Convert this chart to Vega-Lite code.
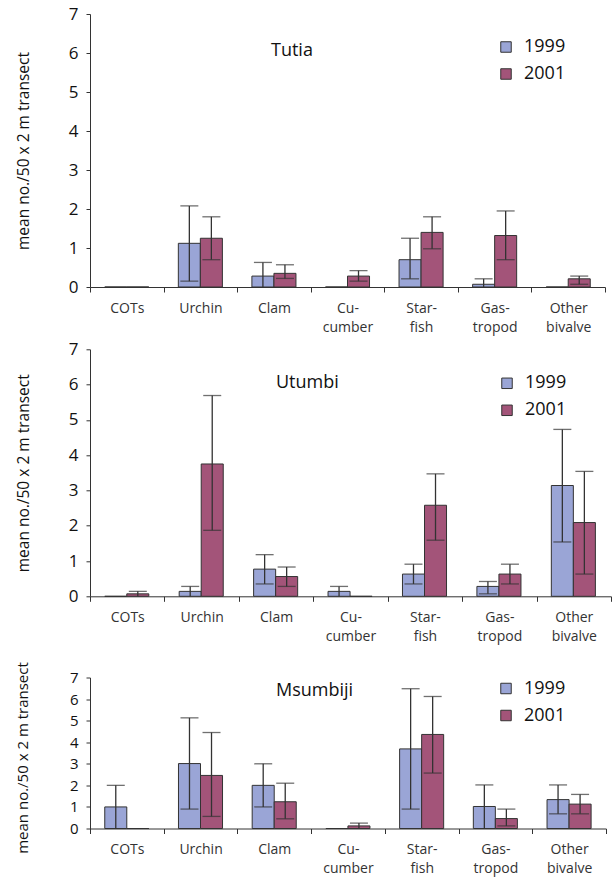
{
  "$schema": "https://vega.github.io/schema/vega-lite/v6.json",
  "padding": {"left": 15, "top": 5, "right": 5, "bottom": 5},
  "config": {
    "font": "Open Sans",
    "view": {"stroke": null},
    "axis": {"grid": false, "domainColor": "#333", "tickColor": "#333", "labelColor": "#111", "titleColor": "#111", "titleFontWeight": "normal"},
    "axisY": {"labelOverlap": false, "tickSize": 4, "labelPadding": 8, "labelFontSize": 17, "titleFontSize": 15.5, "titlePadding": 37},
    "legend": {"orient": "none", "title": null, "symbolType": "square", "symbolSize": 110, "symbolStrokeColor": "#333", "symbolStrokeWidth": 1, "labelFontSize": 18, "labelOffset": 9, "rowPadding": 9, "labelColor": "#111"},
    "title": {"color": "#111", "fontWeight": "normal", "fontSize": 18}
  },
  "datasets": {
    "counts": [
      {"site": "Tutia", "taxon": "COTs", "year": "1999", "mean": 0, "lo": 0, "hi": 0},
      {"site": "Tutia", "taxon": "COTs", "year": "2001", "mean": 0, "lo": 0, "hi": 0},
      {"site": "Tutia", "taxon": "Urchin", "year": "1999", "mean": 1.12, "lo": 0.15, "hi": 2.08},
      {"site": "Tutia", "taxon": "Urchin", "year": "2001", "mean": 1.25, "lo": 0.70, "hi": 1.80},
      {"site": "Tutia", "taxon": "Clam", "year": "1999", "mean": 0.28, "lo": 0, "hi": 0.63},
      {"site": "Tutia", "taxon": "Clam", "year": "2001", "mean": 0.35, "lo": 0.22, "hi": 0.57},
      {"site": "Tutia", "taxon": "Cu- cumber", "year": "1999", "mean": 0, "lo": 0, "hi": 0},
      {"site": "Tutia", "taxon": "Cu- cumber", "year": "2001", "mean": 0.28, "lo": 0.15, "hi": 0.42},
      {"site": "Tutia", "taxon": "Star- fish", "year": "1999", "mean": 0.70, "lo": 0.21, "hi": 1.25},
      {"site": "Tutia", "taxon": "Star- fish", "year": "2001", "mean": 1.40, "lo": 0.98, "hi": 1.80},
      {"site": "Tutia", "taxon": "Gas- tropod", "year": "1999", "mean": 0.07, "lo": 0, "hi": 0.21},
      {"site": "Tutia", "taxon": "Gas- tropod", "year": "2001", "mean": 1.32, "lo": 0.70, "hi": 1.95},
      {"site": "Tutia", "taxon": "Other bivalve", "year": "1999", "mean": 0, "lo": 0, "hi": 0},
      {"site": "Tutia", "taxon": "Other bivalve", "year": "2001", "mean": 0.21, "lo": 0.07, "hi": 0.28},

      {"site": "Utumbi", "taxon": "COTs", "year": "1999", "mean": 0, "lo": 0, "hi": 0},
      {"site": "Utumbi", "taxon": "COTs", "year": "2001", "mean": 0.07, "lo": 0, "hi": 0.14},
      {"site": "Utumbi", "taxon": "Urchin", "year": "1999", "mean": 0.14, "lo": 0, "hi": 0.28},
      {"site": "Utumbi", "taxon": "Urchin", "year": "2001", "mean": 3.75, "lo": 1.87, "hi": 5.69},
      {"site": "Utumbi", "taxon": "Clam", "year": "1999", "mean": 0.77, "lo": 0.35, "hi": 1.18},
      {"site": "Utumbi", "taxon": "Clam", "year": "2001", "mean": 0.56, "lo": 0.28, "hi": 0.83},
      {"site": "Utumbi", "taxon": "Cu- cumber", "year": "1999", "mean": 0.14, "lo": 0, "hi": 0.28},
      {"site": "Utumbi", "taxon": "Cu- cumber", "year": "2001", "mean": 0, "lo": 0, "hi": 0},
      {"site": "Utumbi", "taxon": "Star- fish", "year": "1999", "mean": 0.63, "lo": 0.35, "hi": 0.91},
      {"site": "Utumbi", "taxon": "Star- fish", "year": "2001", "mean": 2.58, "lo": 1.59, "hi": 3.47},
      {"site": "Utumbi", "taxon": "Gas- tropod", "year": "1999", "mean": 0.28, "lo": 0.07, "hi": 0.42},
      {"site": "Utumbi", "taxon": "Gas- tropod", "year": "2001", "mean": 0.63, "lo": 0.35, "hi": 0.91},
      {"site": "Utumbi", "taxon": "Other bivalve", "year": "1999", "mean": 3.14, "lo": 1.54, "hi": 4.73},
      {"site": "Utumbi", "taxon": "Other bivalve", "year": "2001", "mean": 2.09, "lo": 0.63, "hi": 3.54},

      {"site": "Msumbiji", "taxon": "COTs", "year": "1999", "mean": 1.0, "lo": 0, "hi": 2.0},
      {"site": "Msumbiji", "taxon": "COTs", "year": "2001", "mean": 0, "lo": 0, "hi": 0},
      {"site": "Msumbiji", "taxon": "Urchin", "year": "1999", "mean": 3.01, "lo": 0.90, "hi": 5.13},
      {"site": "Msumbiji", "taxon": "Urchin", "year": "2001", "mean": 2.46, "lo": 0.56, "hi": 4.45},
      {"site": "Msumbiji", "taxon": "Clam", "year": "1999", "mean": 2.0, "lo": 1.0, "hi": 3.0},
      {"site": "Msumbiji", "taxon": "Clam", "year": "2001", "mean": 1.24, "lo": 0.45, "hi": 2.10},
      {"site": "Msumbiji", "taxon": "Cu- cumber", "year": "1999", "mean": 0, "lo": 0, "hi": 0},
      {"site": "Msumbiji", "taxon": "Cu- cumber", "year": "2001", "mean": 0.12, "lo": 0, "hi": 0.25},
      {"site": "Msumbiji", "taxon": "Star- fish", "year": "1999", "mean": 3.69, "lo": 0.90, "hi": 6.48},
      {"site": "Msumbiji", "taxon": "Star- fish", "year": "2001", "mean": 4.36, "lo": 2.57, "hi": 6.12},
      {"site": "Msumbiji", "taxon": "Gas- tropod", "year": "1999", "mean": 1.02, "lo": 0, "hi": 2.02},
      {"site": "Msumbiji", "taxon": "Gas- tropod", "year": "2001", "mean": 0.46, "lo": 0.12, "hi": 0.90},
      {"site": "Msumbiji", "taxon": "Other bivalve", "year": "1999", "mean": 1.34, "lo": 0.68, "hi": 2.02},
      {"site": "Msumbiji", "taxon": "Other bivalve", "year": "2001", "mean": 1.13, "lo": 0.68, "hi": 1.58}
    ]
  },
  "resolve": {"scale": {"color": "independent"}, "legend": {"color": "independent"}},
  "spacing": 17.5,
  "vconcat": [
    {
      "resolve": {"scale": {"color": "independent"}, "legend": {"color": "independent"}},
      "spacing": 6.3,
      "vconcat": [
        {
          "width": 515,
          "height": 273,
          "title": {"text": "Tutia", "anchor": "start", "frame": "group", "dx": 181, "offset": -64, "baseline": "middle"},
          "data": {"name": "counts"},
          "transform": [{"filter": "datum.site === 'Tutia'"}],
          "encoding": {
            "x": {"field": "taxon", "type": "nominal", "sort": null,
                  "scale": {"paddingInner": 0, "paddingOuter": 0},
                  "axis": {"title": null, "labelAngle": 0, "labelExpr": "split(datum.label, ' ')", "tickBand": "extent", "tickSize": 5, "labelPadding": 9, "labelFontSize": 14, "labelLineHeight": 19, "labelColor": "#333"}},
            "xOffset": {"field": "year", "type": "nominal", "scale": {"paddingInner": 0, "paddingOuter": 0.67}}
          },
          "layer": [
            {
              "mark": {"type": "bar", "stroke": "#333", "strokeWidth": 1},
              "encoding": {
                "y": {"field": "mean", "type": "quantitative", "scale": {"domain": [0, 7], "nice": false},
                      "axis": {"title": "mean no./50 x 2 m transect", "values": [0, 1, 2, 3, 4, 5, 6, 7]}},
                "color": {"field": "year", "type": "nominal", "scale": {"domain": ["1999", "2001"], "range": ["#9aa5d6", "#a35479"]},
                          "legend": {"legendX": 407, "legendY": 24}}
              }
            },
            {
              "transform": [{"filter": "datum.hi > 0"}],
              "mark": {"type": "rule", "color": "#333", "strokeWidth": 1.3},
              "encoding": {"y": {"field": "lo", "type": "quantitative", "axis": {"title": "mean no./50 x 2 m transect", "values": [0, 1, 2, 3, 4, 5, 6, 7]}}, "y2": {"field": "hi"}}
            },
            {
              "transform": [{"filter": "datum.hi > 0"}],
              "mark": {"type": "tick", "orient": "horizontal", "size": 18, "thickness": 1.3, "color": "#333"},
              "encoding": {"y": {"field": "hi", "type": "quantitative", "axis": {"title": "mean no./50 x 2 m transect", "values": [0, 1, 2, 3, 4, 5, 6, 7]}}}
            },
            {
              "transform": [{"filter": "datum.lo > 0"}],
              "mark": {"type": "tick", "orient": "horizontal", "size": 18, "thickness": 1.3, "color": "#333"},
              "encoding": {"y": {"field": "lo", "type": "quantitative", "axis": {"title": "mean no./50 x 2 m transect", "values": [0, 1, 2, 3, 4, 5, 6, 7]}}}
            }
          ]
        },
        {
          "width": 521,
          "height": 247,
          "title": {"text": "Utumbi", "anchor": "start", "frame": "group", "dx": 186, "offset": -61, "baseline": "middle"},
          "data": {"name": "counts"},
          "transform": [{"filter": "datum.site === 'Utumbi'"}],
          "encoding": {
            "x": {"field": "taxon", "type": "nominal", "sort": null,
                  "scale": {"paddingInner": 0, "paddingOuter": 0},
                  "axis": {"title": null, "labelAngle": 0, "labelExpr": "split(datum.label, ' ')", "tickBand": "extent", "tickSize": 5, "labelPadding": 9, "labelFontSize": 14, "labelLineHeight": 19, "labelColor": "#333"}},
            "xOffset": {"field": "year", "type": "nominal", "scale": {"paddingInner": 0, "paddingOuter": 0.67}}
          },
          "layer": [
            {
              "mark": {"type": "bar", "stroke": "#333", "strokeWidth": 1},
              "encoding": {
                "y": {"field": "mean", "type": "quantitative", "scale": {"domain": [0, 7], "nice": false},
                      "axis": {"title": "mean no./50 x 2 m transect", "values": [0, 1, 2, 3, 4, 5, 6, 7]}},
                "color": {"field": "year", "type": "nominal", "scale": {"domain": ["1999", "2001"], "range": ["#9aa5d6", "#a35479"]},
                          "legend": {"legendX": 408, "legendY": 25}}
              }
            },
            {
              "transform": [{"filter": "datum.hi > 0"}],
              "mark": {"type": "rule", "color": "#333", "strokeWidth": 1.3},
              "encoding": {"y": {"field": "lo", "type": "quantitative", "axis": {"title": "mean no./50 x 2 m transect", "values": [0, 1, 2, 3, 4, 5, 6, 7]}}, "y2": {"field": "hi"}}
            },
            {
              "transform": [{"filter": "datum.hi > 0"}],
              "mark": {"type": "tick", "orient": "horizontal", "size": 18, "thickness": 1.3, "color": "#333"},
              "encoding": {"y": {"field": "hi", "type": "quantitative", "axis": {"title": "mean no./50 x 2 m transect", "values": [0, 1, 2, 3, 4, 5, 6, 7]}}}
            },
            {
              "transform": [{"filter": "datum.lo > 0"}],
              "mark": {"type": "tick", "orient": "horizontal", "size": 18, "thickness": 1.3, "color": "#333"},
              "encoding": {"y": {"field": "lo", "type": "quantitative", "axis": {"title": "mean no./50 x 2 m transect", "values": [0, 1, 2, 3, 4, 5, 6, 7]}}}
            }
          ]
        }
      ]
    },
    {
      "width": 516,
      "height": 151,
      "title": {"text": "Msumbiji", "anchor": "start", "frame": "group", "dx": 186, "offset": -47, "baseline": "middle"},
      "data": {"name": "counts"},
      "transform": [{"filter": "datum.site === 'Msumbiji'"}],
      "encoding": {
        "x": {"field": "taxon", "type": "nominal", "sort": null,
              "scale": {"paddingInner": 0, "paddingOuter": 0},
              "axis": {"title": null, "labelAngle": 0, "labelExpr": "split(datum.label, ' ')", "tickBand": "extent", "tickSize": 5, "labelPadding": 9, "labelFontSize": 14, "labelLineHeight": 19, "labelColor": "#333"}},
        "xOffset": {"field": "year", "type": "nominal", "scale": {"paddingInner": 0, "paddingOuter": 0.67}}
      },
      "layer": [
        {
          "mark": {"type": "bar", "stroke": "#333", "strokeWidth": 1},
          "encoding": {
            "y": {"field": "mean", "type": "quantitative", "scale": {"domain": [0, 7], "nice": false},
                  "axis": {"title": "mean no./50 x 2 m transect", "values": [0, 1, 2, 3, 4, 5, 6, 7], "labelFontSize": 15, "titleFontSize": 15, "titlePadding": 38.5, "titleY": 80}},
            "color": {"field": "year", "type": "nominal", "scale": {"domain": ["1999", "2001"], "range": ["#9aa5d6", "#a35479"]},
                      "legend": {"legendX": 407, "legendY": 2}}
          }
        },
        {
          "transform": [{"filter": "datum.hi > 0"}],
          "mark": {"type": "rule", "color": "#333", "strokeWidth": 1.3},
          "encoding": {"y": {"field": "lo", "type": "quantitative", "axis": {"title": "mean no./50 x 2 m transect", "values": [0, 1, 2, 3, 4, 5, 6, 7], "labelFontSize": 15, "titleFontSize": 15, "titlePadding": 38.5, "titleY": 80}}, "y2": {"field": "hi"}}
        },
        {
          "transform": [{"filter": "datum.hi > 0"}],
          "mark": {"type": "tick", "orient": "horizontal", "size": 18, "thickness": 1.3, "color": "#333"},
          "encoding": {"y": {"field": "hi", "type": "quantitative", "axis": {"title": "mean no./50 x 2 m transect", "values": [0, 1, 2, 3, 4, 5, 6, 7], "labelFontSize": 15, "titleFontSize": 15, "titlePadding": 38.5, "titleY": 80}}}
        },
        {
          "transform": [{"filter": "datum.lo > 0"}],
          "mark": {"type": "tick", "orient": "horizontal", "size": 18, "thickness": 1.3, "color": "#333"},
          "encoding": {"y": {"field": "lo", "type": "quantitative", "axis": {"title": "mean no./50 x 2 m transect", "values": [0, 1, 2, 3, 4, 5, 6, 7], "labelFontSize": 15, "titleFontSize": 15, "titlePadding": 38.5, "titleY": 80}}}
        }
      ]
    }
  ]
}
